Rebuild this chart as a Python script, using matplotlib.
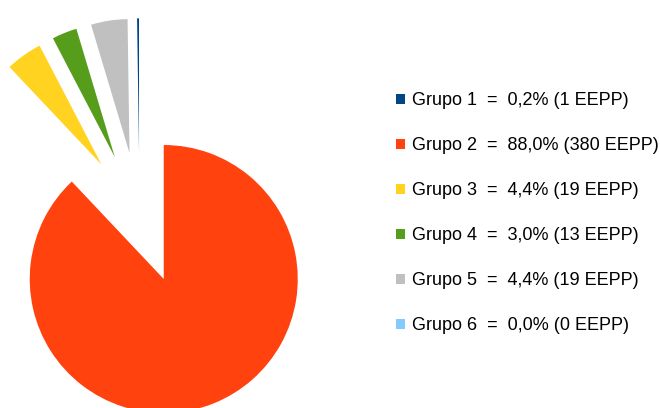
import matplotlib
matplotlib.use("Agg")
import matplotlib.pyplot as plt

# -----------------------------
# Data
# -----------------------------
groups = ["Grupo 1", "Grupo 2", "Grupo 3", "Grupo 4", "Grupo 5", "Grupo 6"]
counts = [1, 380, 19, 13, 19, 0]
percents = ["0,2%", "88,0%", "4,4%", "3,0%", "4,4%", "0,0%"]
colors = ["#004586", "#ff420e", "#ffd320", "#579d1c", "#c0c0c0", "#83caff"]

labels = [f"{g}  =  {p} ({c} EEPP)" for g, p, c in zip(groups, percents, counts)]

plt.rcParams["font.family"] = ["Liberation Sans", "DejaVu Sans"]

# -----------------------------
# Figure
# -----------------------------
W, H = 660, 408
fig = plt.figure(figsize=(W / 100, H / 100), dpi=100)
ax = fig.add_axes([0, 0, 1, 1])

# pie centre / radius in pixels
cx, cy, r = 139.5, 218, 134

wedges, _ = ax.pie(
    counts,
    colors=colors,
    explode=[0.49] * len(counts),
    startangle=90 + 360 * counts[0] / sum(counts),
    counterclock=False,
    radius=1,
    wedgeprops=dict(linewidth=0),
)

ax.set_aspect("auto")
ax.set_xlim(-cx / r, (W - cx) / r)
ax.set_ylim((cy - H) / r, cy / r)
ax.axis("off")

ax.legend(
    wedges,
    labels,
    loc="upper left",
    bbox_to_anchor=(389 / W, 1 - 85 / H),
    frameon=False,
    fontsize=13,
    handlelength=0.5,
    handleheight=0.5,
    handletextpad=0.35,
    labelspacing=1.55,
    borderaxespad=0,
)

fig.savefig("out.png", dpi=100)
